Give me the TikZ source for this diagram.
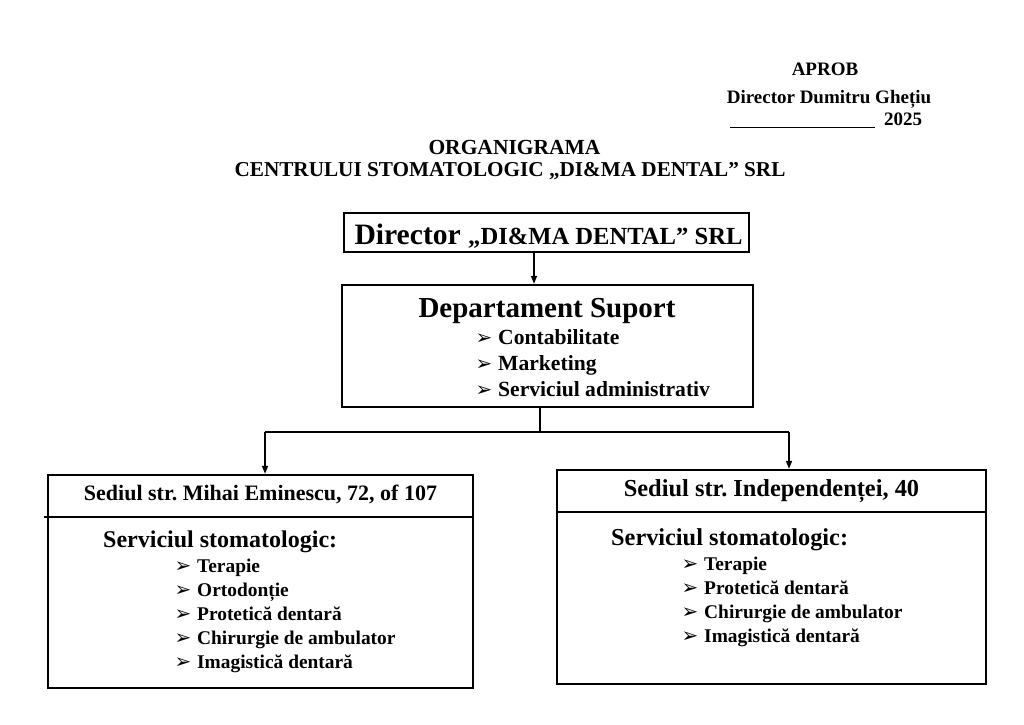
\documentclass[tikz,border=0pt]{standalone}
\usepackage{fontspec}
\setmainfont{Liberation Serif}
\newfontfamily\symfont{DejaVu Sans}
\usetikzlibrary{arrows.meta}
\frenchspacing
\newcommand{\fs}[1]{\fontsize{#1pt}{#1pt}\selectfont}
\newcommand{\arw}{\makebox[20pt][l]{\hspace{-2.5pt}\raisebox{-0.5pt}{\symfont\fontsize{20pt}{20pt}\selectfont ➢}}}
\tikzset{
  box/.style={draw, line width=2.4pt, rectangle, inner sep=0pt},
  conn/.style={line width=1.5pt, -{Triangle[length=8pt,width=6pt]}},
  plain/.style={line width=1.5pt},
  txt/.style={inner sep=0pt, font=\bfseries\fs{#1}},
  txt/.default=19,
}
\begin{document}
\begin{tikzpicture}[x=1pt,y=-1pt]
\useasboundingbox (0,0) rectangle (1024,724);
% approval block
\node[txt=19, anchor=base] (aprob) at (825,75) {APROB};
\node[txt=19, anchor=base] (dirname) at (829,103) {Director Dumitru Ghețiu};
\node[txt=19, anchor=base west] (year) at (730,125) {\rule[-3pt]{145pt}{1.2pt}\hspace{9pt}2025};
% title
\node[txt=21.5, anchor=base] (t1) at (514.5,154) {ORGANIGRAMA};
\node[txt=21.2, anchor=base] (t2) at (510,176) {CENTRULUI STOMATOLOGIC „DI\&MA DENTAL” SRL};
% boxes
\node[box, minimum width=405pt, minimum height=39pt] (dir) at (546.5,232.5) {};
\node[txt=24.6, anchor=base] (dirt) at (548.5,244) {\fs{29.6}Director \fs{24.6}„DI\&MA DENTAL” SRL};
\node[box, minimum width=411pt, minimum height=122pt] (dept) at (547.5,346) {};
\node[txt=29, anchor=base] (deptt) at (547,317) {Departament Suport};
\node[txt=21.6, anchor=base west] (d1) at (478,344) {\arw Contabilitate};
\node[txt=21.6, anchor=base west] (d2) at (478,370) {\arw Marketing};
\node[txt=21.6, anchor=base west] (d3) at (478,396) {\arw Serviciul administrativ};
% left site
\node[box, minimum width=425pt, minimum height=213pt] (left) at (260.5,581.5) {};
\coordinate (ldiv) at (44,517);
\draw[line width=2.4pt] (ldiv) -- (ldiv -| left.east);
\node[txt=22, anchor=base] (lh) at (260.5,500) {Sediul str. Mihai Eminescu, 72, of 107};
\node[txt=24, anchor=base west] (ls) at (103,547) {Serviciul stomatologic:};
\node[txt=19.4, anchor=base west] (l1) at (177,572) {\arw Terapie};
\node[txt=19.4, anchor=base west] (l2) at (177,596) {\arw Ortodonție};
\node[txt=19.4, anchor=base west] (l3) at (177,620) {\arw Protetică dentară};
\node[txt=19.4, anchor=base west] (l4) at (177,644) {\arw Chirurgie de ambulator};
\node[txt=19.4, anchor=base west] (l5) at (177,668) {\arw Imagistică dentară};
% right site
\node[box, minimum width=429pt, minimum height=214pt] (right) at (771.5,577) {};
\coordinate (rdiv) at (557,512);
\draw[line width=2.4pt] (rdiv) -- (rdiv -| right.east);
\node[txt=24.4, anchor=base] (rh) at (771.5,496) {Sediul str. Independenței, 40};
\node[txt=24.3, anchor=base west] (rs) at (611,545) {Serviciul stomatologic:};
\node[txt=19.4, anchor=base west] (r1) at (684,570) {\arw Terapie};
\node[txt=19.4, anchor=base west] (r2) at (684,594) {\arw Protetică dentară};
\node[txt=19.4, anchor=base west] (r3) at (684,618) {\arw Chirurgie de ambulator};
\node[txt=19.4, anchor=base west] (r4) at (684,642) {\arw Imagistică dentară};
% connectors
\coordinate (c1) at (534,0);
\draw[conn] (dir.south -| c1) -- (dept.north -| c1);
\coordinate (stem) at (540,432);
\coordinate (lx) at (265,432);
\coordinate (rx) at (789,432);
\draw[plain] (dept.south -| stem) -- (stem);
\draw[plain] (lx) -- (rx);
\draw[conn] (lx) -- (left.north -| lx);
\draw[conn] (rx) -- (right.north -| rx);
\end{tikzpicture}
\end{document}
